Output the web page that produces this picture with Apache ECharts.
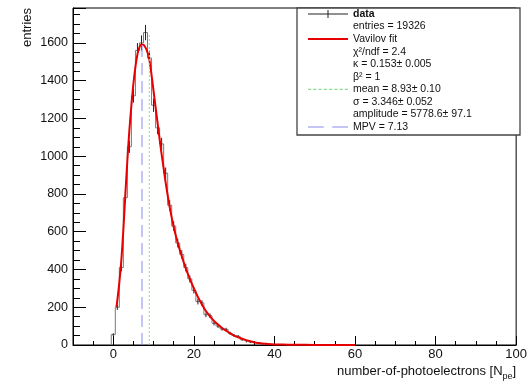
<!DOCTYPE html>
<html><head><meta charset="utf-8">
<script src="https://cdn.jsdelivr.net/npm/echarts@6/dist/echarts.min.js"></script>
<style>html,body{margin:0;padding:0;background:#fff}#c{width:530px;height:381px}</style>
</head><body><div id="c"></div>
<script>
// ---------------- data ----------------
const binCenters = [0,1,2,3,4,5,6,7,8,9,10,11,12,13,14,15,16,17,18,19,20,21,22,23,24,25,26,27,28,29,30,31,32,33,34,35,36,37,38,39,40,41,42,43,44,45,46,47,48,49,50,51,52,53,54,55,56,57,58,59];
const binWidth = 1;
const counts = [55,200,410,780,1050,1320,1560,1600,1655,1520,1270,1150,1065,910,740,630,540,480,410,350,290,230,222,160,155,115,100,85,82,62,50,45,28,18,14,12,8,6,4,3,2,2,1,1,0,1,0,0,0,0,0,0,0,0,0,0,0,0,0,0];
const fitX = [0.8,1.5,2,2.5,3,3.5,4,4.5,5,5.5,6,6.5,7,7.5,8,8.5,9,9.5,10,10.5,11,11.5,12,12.5,13,14,15,16,17,18,19,20,21,22,23,24,25,26,27,28,29,30,31,32,33,34,35,36,37,38,40,42,45,50,55,60];
const fitY = [200,330,450,610,800,980,1140,1270,1385,1475,1540,1578,1592,1590,1575,1550,1505,1430,1345,1260,1175,1090,1010,935,860,730,625,540,470,405,350,300,255,215,180,152,128,108,90,76,62,50,41,33,26,20,15,11,8,6,3,2,1,0.5,0.2,0.1];
const meanValue = 8.93, meanLineTop = 1650;
const mpvValue = 7.13, mpvLineTop = 1600;
const xRange = [-10, 100];
const yRange = [0, 1785];
const legendNames = ['data', 'Vavilov fit', 'mean = 8.93± 0.10', 'MPV = 7.13'];
const statTexts = ['entries = 19326', 'χ²/ndf = 2.4', 'κ = 0.153± 0.005', 'β² = 1', 'σ = 3.346± 0.052', 'amplitude = 5778.6± 97.1'];
const xTitle = 'number-of-photoelectrons [N';
const xTitleSub = 'pe';
const yTitle = 'entries';

// ---------------- layout ----------------
const FONT = 'Liberation Sans, Arial, Helvetica, sans-serif';
const rowY = k => 14 + 12.56 * k;
const statRowIdx = [1, 3, 4, 5, 7, 8];
const legendRowIdx = [0, 2, 6, 9];
const icons = [
  'path://M0,3.5H40V4.5H0Z M19.5,0H20.5V8H19.5Z',
  'path://M0,0H40V2H0Z',
  'path://M0,0H3V1H0Z M5,0H8V1H5Z M10,0H13V1H10Z M15,0H18V1H15Z M20,0H23V1H20Z M25,0H28V1H25Z M30,0H33V1H30Z M35,0H38V1H35Z',
  'path://M0,0H15V1H0Z M23,0H38V1H23Z'
];
const iconColors = ['#222', '#e60000', '#8fdc8f', '#8a8af0'];

// histogram outline
const histStep = [[binCenters[0] - binWidth / 2, 0]];
binCenters.forEach((c, i) => {
  histStep.push([c - binWidth / 2, counts[i]]);
  histStep.push([c + binWidth / 2, counts[i]]);
});
histStep.push([binCenters[binCenters.length - 1] + binWidth / 2, 0]);
// Poisson error bars of the data
const errData = [];
binCenters.forEach((c, i) => { if (counts[i] > 0) { const e = Math.sqrt(counts[i]); errData.push([c, counts[i] - e, counts[i] + e]); } });
const fitData = fitX.map((x, i) => [x, fitY[i]]);

const chart = echarts.init(document.getElementById('c'), null, {renderer: 'canvas'});
const legendBase = {
  orient: 'horizontal', left: 308, padding: 0, itemWidth: 40, itemHeight: 12, itemGap: 0,
  selectedMode: false, symbolKeepAspect: true,
  textStyle: {fontFamily: FONT, fontSize: 10.5, color: '#111', lineHeight: 12, padding: [0,0,0,0]}
};
const legends = legendNames.map((n, i) => Object.assign({}, legendBase, {
  top: rowY(legendRowIdx[i]) - 6,
  data: [{name: n, icon: icons[i], itemStyle: {color: iconColors[i], borderWidth: 0, opacity: 1}}],
  textStyle: Object.assign({}, legendBase.textStyle, i === 0 ? {fontWeight: 'bold'} : {})
}));

const option = {
  animation: false,
  backgroundColor: '#fff',
  grid: {left: 73, right: 10, top: 8, bottom: 36, show: true, borderColor: '#000', borderWidth: 1, backgroundColor: 'transparent'},
  xAxis: [{
    type: 'value', min: xRange[0], max: xRange[1], splitNumber: 5,
    axisLine: {show: true, onZero: false, lineStyle: {color: '#000', width: 1}},
    axisTick: {show: true, inside: true, length: 9, lineStyle: {color: '#000'}},
    axisLabel: {showMinLabel: false, color: '#111', fontSize: 13, fontFamily: FONT, margin: 3},
    splitLine: {show: false},
    name: '{n|' + xTitle + '}{s|' + xTitleSub + '}{n|]}',
    nameLocation: 'end', nameGap: 0,
    nameTextStyle: {
      align: 'right', verticalAlign: 'top', padding: [20, 0, 0, 0],
      rich: {
        n: {fontSize: 13, fontFamily: FONT, color: '#111', lineHeight: 16, verticalAlign: 'top'},
        s: {fontSize: 9, fontFamily: FONT, color: '#111', lineHeight: 9, verticalAlign: 'bottom'}
      }
    }
  }, {
    type: 'value', min: xRange[0], max: xRange[1], interval: 5, position: 'bottom',
    axisLine: {show: false, onZero: false}, axisTick: {show: true, inside: true, length: 4, lineStyle: {color: '#000'}},
    axisLabel: {show: false}, splitLine: {show: false}
  }],
  yAxis: {
    type: 'value', min: yRange[0], max: yRange[1], interval: 200,
    axisLine: {show: true, onZero: false, lineStyle: {color: '#000'}},
    axisTick: {show: true, inside: true, length: 13, lineStyle: {color: '#000'}},
    minorTick: {show: true, splitNumber: 4, length: 7, lineStyle: {color: '#000'}},
    axisLabel: {showMaxLabel: false, color: '#111', fontSize: 12.5, fontFamily: FONT, margin: 5, formatter: v => String(v)},
    splitLine: {show: false}, minorSplitLine: {show: false}
  },
  legend: legends,
  graphic: [
    {type: 'rect', z: 3, shape: {x: 297, y: 8, width: 223, height: 127}, style: {fill: '#fff', stroke: '#444', lineWidth: 1.3}},
    ...statTexts.map((t, i) => ({type: 'text', z: 5, x: 353, y: rowY(statRowIdx[i]),
      style: {text: t, fontFamily: FONT, fontSize: 10.5, fill: '#111', align: 'left', verticalAlign: 'middle'}})),
    {type: 'text', z: 5, x: 27.5, y: 8, rotation: Math.PI / 2,
      style: {text: yTitle, fontFamily: FONT, fontSize: 13, fill: '#111', align: 'right', verticalAlign: 'middle'}}
  ],
  series: [
    {name: legendNames[0], type: 'line', xAxisIndex: 0, data: histStep, symbol: 'none', z: 2,
      lineStyle: {color: '#7a7a7a', width: 1}, itemStyle: {color: '#222'}},
    {name: 'data errors', type: 'custom', xAxisIndex: 0, data: errData, z: 3,
      renderItem: (params, api) => {
        const p1 = api.coord([api.value(0), api.value(1)]);
        const p2 = api.coord([api.value(0), api.value(2)]);
        return {type: 'line', shape: {x1: p1[0], y1: p1[1], x2: p2[0], y2: p2[1]}, style: {stroke: '#222', lineWidth: 1}};
      }},
    {name: legendNames[1], type: 'line', xAxisIndex: 0, data: fitData, symbol: 'none', smooth: 0.3, z: 4,
      lineStyle: {color: '#e60000', width: 2}, itemStyle: {color: '#e60000'}},
    {name: legendNames[2], type: 'line', xAxisIndex: 0, data: [[meanValue, 0], [meanValue, meanLineTop]], symbol: 'none', z: 5,
      lineStyle: {color: '#8fdc8f', width: 1, type: [2, 2]}, itemStyle: {color: '#8fdc8f'}},
    {name: legendNames[3], type: 'line', xAxisIndex: 0, data: [[mpvValue, 0], [mpvValue, mpvLineTop]], symbol: 'none', z: 5,
      lineStyle: {color: '#8a8af0', width: 1, type: [12, 6]}, itemStyle: {color: '#8a8af0'}}
  ]
};
chart.setOption(option);
</script></body></html>
